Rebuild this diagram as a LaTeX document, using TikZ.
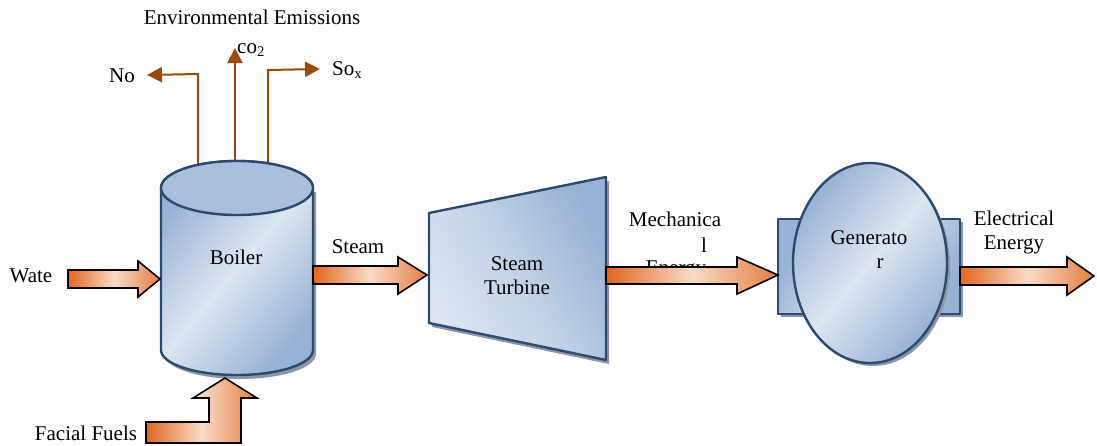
\documentclass[tikz,border=0pt]{standalone}
\usepackage{fontspec}
\setmainfont{Liberation Serif}
\usetikzlibrary{arrows.meta,calc}
\definecolor{edge}{HTML}{2C4A6E}
\definecolor{bd}{HTML}{98B2D5}
\definecolor{bl}{HTML}{DDE6F1}
\definecolor{topc}{HTML}{A9BFDC}
\definecolor{shad}{HTML}{8D96A8}
\definecolor{orD}{HTML}{E0661F}
\definecolor{orL}{HTML}{F9DCC8}
\definecolor{brn}{HTML}{994A0E}
\begin{document}
\begin{tikzpicture}[x=1pt,y=-1pt, font=\fontsize{21}{23}\selectfont,
  body/.style={draw=edge, line width=2.4pt, line join=round},
  shd/.style={fill=shad, draw=none},
  barrow/.style={draw=black, line width=1.6pt, line join=miter, left color=orD, right color=orD!85, middle color=orL},
  emis/.style={draw=brn, line width=2pt, -{Triangle[length=15pt,width=15pt]}},
  lbl/.style={inner sep=0pt, text=black},
]
\useasboundingbox (0,0) rectangle (1097,445);

% emission lines (behind boiler)
\draw[emis] (198,168) -- (198,74) -- (147,75);
\draw[emis] (235,168) -- (235,48);
\draw[emis] (268,168) -- (268,70) -- (320,69);

% boiler shadow and body
\fill[shd] (164,192) -- (164,354) arc[start angle=180,end angle=360,x radius=76pt,y radius=25pt] -- (316,192) -- cycle;
\path[body, left color=bd, right color=bd, middle color=bl, shading angle=50]
  (161,188) -- (161,350) arc[start angle=180,end angle=360,x radius=76pt,y radius=25pt]
  -- (313,188) arc[start angle=0,end angle=180,x radius=76pt,y radius=27pt] -- cycle;
\draw[body, fill=topc] (237,188) ellipse[x radius=76pt, y radius=27pt];

% turbine
\fill[shd] (432,217) -- (609,181) -- (609,364) -- (432,327) -- cycle;
\path[body, left color=bl, right color=bd, middle color=bl!60!bd, shading angle=120]
  (429,213) -- (606,177) -- (606,360) -- (429,323) -- cycle;

% generator
\fill[shd] (781,222) rectangle (963,317);
\path[body, left color=bd, right color=bd, middle color=bl, shading angle=60] (778,219) rectangle (960,314);
\fill[shd] (873,266) ellipse[x radius=77pt, y radius=100pt];
\path[body, left color=bd, right color=bd, middle color=bl, shading angle=50] (870,263) ellipse[x radius=77pt, y radius=100pt];

% hidden label behind mechanical arrow
\node[lbl] (mech3) at (676,270) {Energy};

% block arrows
\path[barrow] (68,270) -- (138,270) -- (138,261) -- (160,279) -- (138,297) -- (138,288) -- (68,288) -- cycle;
\path[barrow] (313,266) -- (398,266) -- (398,257) -- (427,275) -- (398,294) -- (398,284) -- (313,284) -- cycle;
\path[barrow] (606,267) -- (737,267) -- (737,257) -- (778,275) -- (737,294) -- (737,284) -- (606,284) -- cycle;
\path[barrow] (960,267) -- (1067,267) -- (1067,257) -- (1094,276) -- (1067,295) -- (1067,285) -- (960,285) -- cycle;
\path[barrow] (146,422) -- (209,422) -- (209,398) -- (193,398) -- (225,378) -- (257,398) -- (241,398) -- (241,443) -- (146,443) -- cycle;

% labels
\node[lbl] (env) at (252,17) {Environmental Emissions};
\node[lbl] (no) at (122,76) {No};
\node[lbl, anchor=west] (co2) at (237,50) {co\textsubscript{2}};
\node[lbl, anchor=west] (sox) at (332,70) {So\textsubscript{x}};
\node[lbl] (boil) at (236,257) {Boiler};
\node[lbl] (stm) at (358,247) {Steam};
\node[lbl] (wate) at (31,276) {Wate};
\node[lbl] (fuel) at (86,433) {Facial Fuels};
\node[lbl] (st1) at (517,264) {Steam};
\node[lbl] (st2) at (517,287) {Turbine};
\node[lbl] (mech1) at (675,219) {Mechanica};
\node[lbl] (mech2) at (704,245) {l};
\node[lbl] (gen1) at (869,238) {Generato};
\node[lbl] (gen2) at (880,264) {r};
\node[lbl] (el1) at (1014,218) {Electrical};
\node[lbl] (el2) at (1014,245) {Energy};
\end{tikzpicture}
\end{document}
